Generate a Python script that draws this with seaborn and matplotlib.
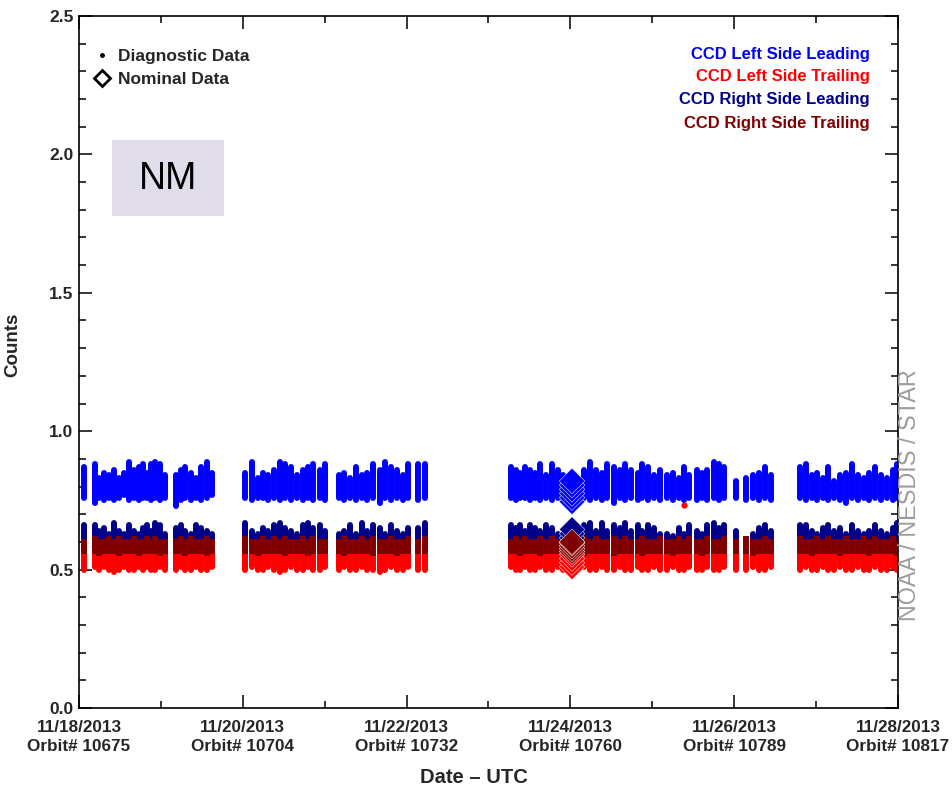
###
# CCD dark counts per orbit, 11/18/2013 - 11/28/2013 (NOAA / NESDIS / STAR style plot)
###

import numpy as np
import pandas as pd
import matplotlib
matplotlib.use('Agg')
import matplotlib.pyplot as plt
import seaborn as sns
from matplotlib.lines import Line2D
from matplotlib.patches import Rectangle
from matplotlib.ticker import MultipleLocator

# Orbit columns, in days since 11/18/2013 00:00 UTC
orbit_day = [
    0.06, 0.19, 0.25, 0.31, 0.37, 0.43, 0.49, 0.55, 0.61, 0.67, 0.73, 0.78, 0.83, 0.88, 0.93, 0.99, 1.05,
    1.18, 1.24, 1.30, 1.37, 1.43, 1.49, 1.56, 1.62,
    2.03, 2.11, 2.18, 2.25, 2.31, 2.38, 2.46, 2.52, 2.59, 2.66, 2.73, 2.79, 2.86, 2.94, 3.00,
    3.17, 3.24, 3.31, 3.38, 3.45, 3.52, 3.59, 3.67, 3.74, 3.81, 3.88, 3.95, 4.02, 4.14, 4.22,
    5.27, 5.33, 5.39, 5.45, 5.51, 5.57, 5.63, 5.70, 5.78, 5.85, 5.91, 6.02, 6.17, 6.24, 6.31, 6.39,
    6.45, 6.53, 6.60, 6.67, 6.74, 6.82, 6.88, 6.95, 7.02, 7.10, 7.18, 7.25, 7.32, 7.39, 7.45, 7.54,
    7.61, 7.67, 7.75, 7.81, 7.88, 8.02, 8.15, 8.23, 8.30, 8.38, 8.45,
    8.80, 8.88, 8.95, 9.01, 9.08, 9.15, 9.22, 9.29, 9.37, 9.44, 9.51, 9.58, 9.65, 9.72, 9.79, 9.86, 9.94, 9.99,
]

# CCD Left Side Leading (blue band): per-orbit min / max
left_lead_hi = [
    0.87, 0.88, 0.83, 0.85, 0.84, 0.86, 0.83, 0.85, 0.89, 0.86, 0.87, 0.88, 0.85, 0.88, 0.89, 0.88, 0.84,
    0.84, 0.86, 0.87, 0.85, 0.83, 0.87, 0.89, 0.85,
    0.85, 0.89, 0.83, 0.85, 0.84, 0.86, 0.89, 0.88, 0.87, 0.84, 0.86, 0.87, 0.88, 0.86, 0.88,
    0.84, 0.85, 0.83, 0.87, 0.84, 0.85, 0.88, 0.86, 0.89, 0.87, 0.86, 0.84, 0.88, 0.88, 0.88,
    0.87, 0.86, 0.85, 0.87, 0.86, 0.85, 0.88, 0.84, 0.88, 0.86, 0.84, 0.85, 0.86, 0.89, 0.86, 0.85,
    0.88, 0.87, 0.86, 0.88, 0.86, 0.85, 0.88, 0.87, 0.84, 0.86, 0.84, 0.85, 0.83, 0.87, 0.84, 0.86,
    0.85, 0.86, 0.89, 0.88, 0.87, 0.82, 0.83, 0.84, 0.85, 0.87, 0.84,
    0.87, 0.88, 0.84, 0.85, 0.83, 0.87, 0.82, 0.84, 0.85, 0.88, 0.84, 0.83, 0.85, 0.87, 0.84, 0.83, 0.86, 0.88,
]
left_lead_lo = [
    0.76, 0.74, 0.76, 0.75, 0.76, 0.75, 0.76, 0.77, 0.75, 0.76, 0.75, 0.76, 0.76, 0.75, 0.76, 0.75, 0.76,
    0.73, 0.75, 0.76, 0.75, 0.76, 0.75, 0.76, 0.77,
    0.76, 0.75, 0.76, 0.76, 0.75, 0.76, 0.75, 0.76, 0.75, 0.76, 0.75, 0.76, 0.75, 0.76, 0.75,
    0.76, 0.75, 0.76, 0.75, 0.76, 0.75, 0.76, 0.74, 0.76, 0.75, 0.76, 0.75, 0.76, 0.75, 0.76,
    0.76, 0.75, 0.76, 0.76, 0.75, 0.76, 0.75, 0.76, 0.75, 0.76, 0.75, 0.75, 0.76, 0.75, 0.76, 0.75,
    0.76, 0.74, 0.76, 0.75, 0.76, 0.75, 0.76, 0.75, 0.76, 0.75, 0.76, 0.75, 0.76, 0.75, 0.76, 0.75,
    0.76, 0.75, 0.76, 0.75, 0.76, 0.76, 0.75, 0.76, 0.75, 0.76, 0.75,
    0.76, 0.75, 0.76, 0.75, 0.76, 0.75, 0.76, 0.75, 0.74, 0.76, 0.75, 0.76, 0.75, 0.76, 0.75, 0.76, 0.75, 0.76,
]

# CCD Right Side Leading (navy): per-orbit max
right_lead_hi = [
    0.66, 0.66, 0.64, 0.65, 0.63, 0.67, 0.64, 0.63, 0.66, 0.64, 0.63, 0.65, 0.66, 0.64, 0.67, 0.66, 0.63,
    0.65, 0.66, 0.64, 0.63, 0.66, 0.65, 0.64, 0.63,
    0.67, 0.64, 0.63, 0.65, 0.64, 0.66, 0.67, 0.65, 0.64, 0.63, 0.66, 0.67, 0.65, 0.66, 0.64,
    0.63, 0.64, 0.66, 0.63, 0.67, 0.64, 0.66, 0.65, 0.63, 0.66, 0.64, 0.63, 0.65, 0.65, 0.67,
    0.66, 0.65, 0.66, 0.64, 0.66, 0.65, 0.64, 0.66, 0.65, 0.63, 0.62, 0.63, 0.66, 0.67, 0.64, 0.67,
    0.64, 0.66, 0.65, 0.67, 0.64, 0.66, 0.64, 0.66, 0.65, 0.63, 0.63, 0.62, 0.65, 0.63, 0.66, 0.64,
    0.63, 0.66, 0.67, 0.65, 0.66, 0.64, 0.62, 0.63, 0.65, 0.66, 0.64,
    0.66, 0.66, 0.64, 0.63, 0.65, 0.66, 0.64, 0.65, 0.63, 0.66, 0.64, 0.63, 0.64, 0.66, 0.64, 0.63, 0.65, 0.67,
]

# CCD Right Side Trailing (maroon): per-orbit min / max
right_trail_hi = [
    0.61, 0.62, 0.61, 0.61, 0.62, 0.61, 0.62, 0.61, 0.61, 0.62, 0.61, 0.61, 0.62, 0.61, 0.62, 0.61, 0.61,
    0.61, 0.62, 0.61, 0.62, 0.61, 0.61, 0.62, 0.61,
    0.62, 0.61, 0.61, 0.62, 0.61, 0.62, 0.61, 0.62, 0.61, 0.61, 0.62, 0.61, 0.62, 0.61, 0.61,
    0.61, 0.62, 0.61, 0.61, 0.62, 0.61, 0.62, 0.61, 0.61, 0.62, 0.61, 0.61, 0.62, 0.61, 0.62,
    0.61, 0.62, 0.61, 0.62, 0.61, 0.61, 0.62, 0.61, 0.62, 0.61, 0.61, 0.61, 0.62, 0.61, 0.62, 0.61,
    0.61, 0.62, 0.61, 0.62, 0.61, 0.61, 0.62, 0.61, 0.61, 0.62, 0.61, 0.61, 0.62, 0.61, 0.62, 0.61,
    0.61, 0.62, 0.61, 0.61, 0.62, 0.61, 0.62, 0.61, 0.61, 0.62, 0.61,
    0.62, 0.61, 0.61, 0.62, 0.61, 0.62, 0.61, 0.61, 0.62, 0.61, 0.61, 0.62, 0.61, 0.62, 0.61, 0.61, 0.62, 0.61,
]
right_trail_lo = [
    0.555, 0.555, 0.55, 0.555, 0.555, 0.555, 0.55, 0.555, 0.555, 0.555, 0.55, 0.555, 0.555, 0.555, 0.555, 0.55, 0.555,
    0.555, 0.555, 0.55, 0.555, 0.555, 0.555, 0.55, 0.555,
    0.555, 0.555, 0.55, 0.555, 0.555, 0.555, 0.555, 0.55, 0.555, 0.555, 0.555, 0.55, 0.555, 0.555, 0.555,
    0.555, 0.55, 0.555, 0.555, 0.555, 0.555, 0.55, 0.555, 0.555, 0.555, 0.55, 0.555, 0.555, 0.555, 0.555,
    0.555, 0.555, 0.55, 0.555, 0.555, 0.555, 0.55, 0.555, 0.555, 0.555, 0.555, 0.555, 0.55, 0.555, 0.555, 0.555,
    0.555, 0.55, 0.555, 0.555, 0.555, 0.555, 0.55, 0.555, 0.555, 0.555, 0.555, 0.55, 0.555, 0.555, 0.555, 0.555,
    0.55, 0.555, 0.555, 0.555, 0.555, 0.555, 0.555, 0.55, 0.555, 0.555, 0.555,
    0.555, 0.555, 0.55, 0.555, 0.555, 0.555, 0.555, 0.55, 0.555, 0.555, 0.555, 0.555, 0.55, 0.555, 0.555, 0.555, 0.555, 0.55,
]

# CCD Left Side Trailing (red): per-orbit min
left_trail_lo = [
    0.50, 0.51, 0.50, 0.51, 0.50, 0.49, 0.50, 0.51, 0.50, 0.50, 0.51, 0.50, 0.51, 0.50, 0.50, 0.51, 0.50,
    0.50, 0.51, 0.50, 0.50, 0.51, 0.50, 0.50, 0.51,
    0.50, 0.51, 0.50, 0.50, 0.51, 0.50, 0.49, 0.50, 0.51, 0.50, 0.50, 0.51, 0.50, 0.50, 0.51,
    0.50, 0.51, 0.50, 0.50, 0.51, 0.50, 0.50, 0.49, 0.50, 0.51, 0.50, 0.50, 0.51, 0.50, 0.50,
    0.51, 0.50, 0.50, 0.51, 0.50, 0.50, 0.51, 0.50, 0.50, 0.51, 0.50, 0.50, 0.51, 0.50, 0.50, 0.51,
    0.50, 0.50, 0.51, 0.50, 0.50, 0.51, 0.50, 0.50, 0.51, 0.50, 0.50, 0.51, 0.50, 0.50, 0.51, 0.50,
    0.50, 0.51, 0.50, 0.50, 0.51, 0.50, 0.50, 0.51, 0.50, 0.50, 0.51,
    0.50, 0.51, 0.50, 0.50, 0.51, 0.50, 0.50, 0.51, 0.50, 0.50, 0.51, 0.50, 0.50, 0.51, 0.50, 0.50, 0.51, 0.50,
]

# Single stray red reading inside the blue band
stray_day = [7.39]
stray_counts = [0.735]

# Nominal data (big diamonds) taken on 11/24
nominal_day = 6.02
nominal_left_lead = [0.745, 0.76, 0.775, 0.79, 0.805, 0.82]
nominal_left_trail = [0.51, 0.525, 0.54, 0.555]
nominal_right_lead = [0.60, 0.615, 0.63, 0.645]
nominal_right_trail = [0.565, 0.575, 0.585, 0.595, 0.60]

# Axis labels
tick_days = [0, 2, 4, 6, 8, 10]
tick_dates = ['11/18/2013', '11/20/2013', '11/22/2013', '11/24/2013', '11/26/2013', '11/28/2013']
tick_orbits = [10675, 10704, 10732, 10760, 10789, 10817]

series_names = ['CCD Left Side Leading', 'CCD Left Side Trailing',
                'CCD Right Side Leading', 'CCD Right Side Trailing']
series_colors = ['#0000ff', '#ff0000', '#00008b', '#800000']

for arr in [left_lead_hi, left_lead_lo, right_lead_hi, right_trail_hi, right_trail_lo, left_trail_lo]:
    assert len(arr) == len(orbit_day), len(arr)

sns.set_style('ticks')
plt.rcParams['font.family'] = ['Liberation Sans', 'DejaVu Sans']
plt.rcParams['font.weight'] = 'bold'

fig = plt.figure(figsize=(9.53, 7.98), dpi=100)
ax = fig.add_axes([79 / 953, 1 - 708 / 798, 819 / 953, 692 / 798])

# Diagnostic data: one vertical run of readings per orbit
# (red, navy hidden ends tuck under the maroon run drawn last)
day = np.array(orbit_day)
col_lw = 4.3
ax.vlines(day, left_lead_lo, left_lead_hi, color=series_colors[0], lw=col_lw, capstyle='round', zorder=2)
ax.vlines(day, left_trail_lo, right_trail_lo, color=series_colors[1], lw=col_lw, capstyle='round', zorder=2)
ax.vlines(day, right_trail_hi, right_lead_hi, color=series_colors[2], lw=col_lw, capstyle='round', zorder=2)
ax.vlines(day, right_trail_lo, right_trail_hi, color=series_colors[3], lw=col_lw, capstyle='butt', zorder=2)

sns.scatterplot(x=stray_day, y=stray_counts, color=series_colors[1], s=20, linewidth=0, ax=ax, zorder=3)

# Nominal data diamonds
nominal_df = pd.concat([
    pd.DataFrame({'day': nominal_day, 'counts': vals, 'series': name})
    for name, vals in zip(series_names, [nominal_left_lead, nominal_left_trail,
                                         nominal_right_lead, nominal_right_trail])
], ignore_index=True)
sns.scatterplot(data=nominal_df, x='day', y='counts', hue='series', hue_order=series_names,
                palette=series_colors, marker='D', s=170, edgecolor='white', linewidth=0.35,
                legend=False, ax=ax, zorder=4)

# Axes, ticks
ax.set_xlim(0, 10)
ax.set_ylim(0, 2.5)
ax.set_xticks(tick_days)
ax.set_xticklabels([f'{d}\nOrbit# {o}' for d, o in zip(tick_dates, tick_orbits)],
                   fontsize=12.3, fontweight='bold', linespacing=1.3)
ax.xaxis.set_minor_locator(MultipleLocator(1))
ax.set_yticks(np.arange(0, 2.51, 0.5))
ax.set_yticklabels([f'{v:.1f}' for v in np.arange(0, 2.51, 0.5)], fontsize=12.5, fontweight='bold')
ax.yaxis.set_minor_locator(MultipleLocator(0.1))
ax.tick_params(which='both', direction='in', top=True, right=True, width=1.1, color='black')
ax.tick_params(which='major', length=9.5)
ax.tick_params(which='minor', length=5)
ax.tick_params(axis='x', pad=9)
ax.tick_params(axis='y', pad=4)
for s in ax.spines.values():
    s.set_linewidth(1.2)
    s.set_color('black')

ax.set_xlabel('Date – UTC', fontsize=14.5, fontweight='bold')
ax.xaxis.set_label_coords(0.482, -0.087)
ax.set_ylabel('Counts', fontsize=13.5, fontweight='bold')
ax.yaxis.set_label_coords(-0.07, 0.525)

# Marker legend, top left
handles = [
    Line2D([], [], ls='none', marker='o', ms=2.5, color='black'),
    Line2D([], [], ls='none', marker='D', ms=8.5, mfc='white', mec='black', mew=2),
]
ax.legend(handles, ['Diagnostic Data', 'Nominal Data'], loc='upper left',
          bbox_to_anchor=(0.018, 0.953), frameon=False, fontsize=12.5, handlelength=1.0,
          handletextpad=0.4, labelspacing=0.45, borderaxespad=0, borderpad=0)

# Series legend, top right, as coloured text
for name, c, y in zip(series_names, series_colors, [0.945, 0.912, 0.879, 0.845]):
    ax.text(0.9658, y, name, color=c, fontsize=12, fontweight='bold',
            ha='right', va='center', transform=ax.transAxes)

# Mode box
fig.patches.append(Rectangle((112 / 953, 1 - 216 / 798), 112 / 953, 76 / 798,
                             transform=fig.transFigure, facecolor='#e1dcea', edgecolor='none'))
fig.text(168 / 953, 1 - 179 / 798, 'NM', fontsize=27, fontweight='normal',
         ha='center', va='center', color='black')

# Credit
fig.text(910 / 953, 1 - 495 / 798, 'NOAA / NESDIS / STAR', rotation=90, fontsize=16.8,
         fontweight='normal', color='#9c9c9c', ha='center', va='center')

plt.savefig('out.png', dpi=100)
plt.close()
